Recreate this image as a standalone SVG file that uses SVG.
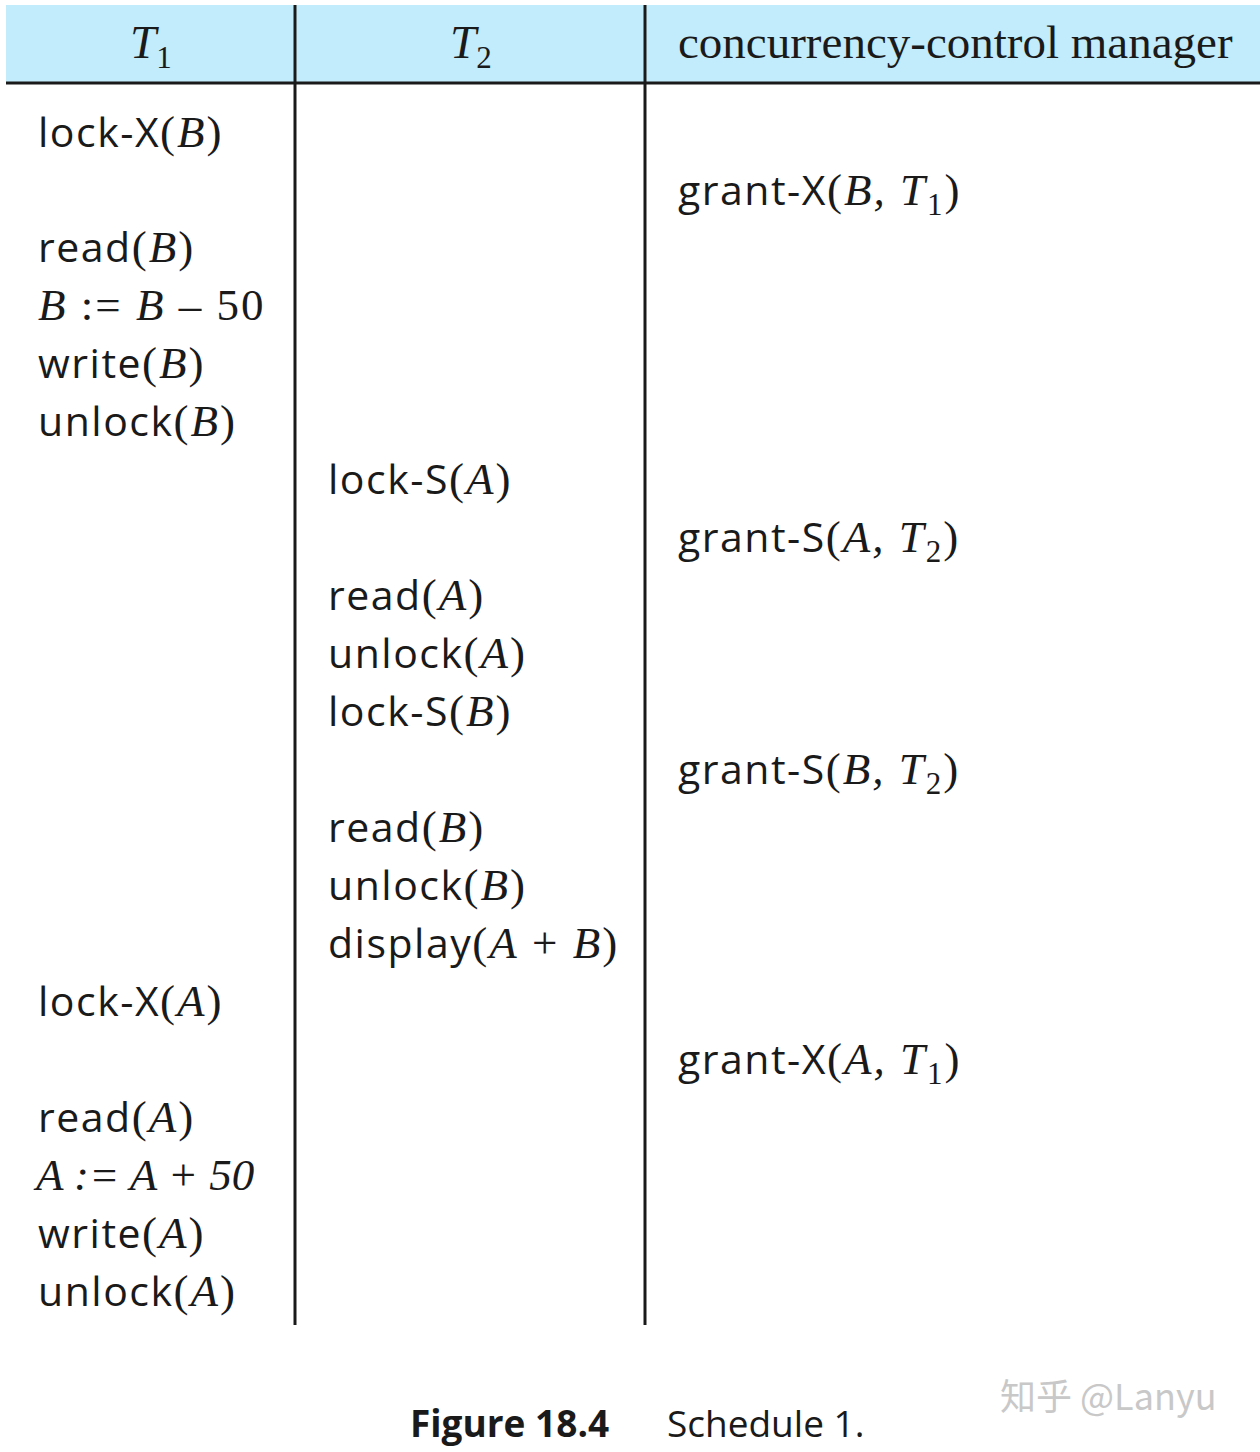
<svg xmlns="http://www.w3.org/2000/svg" width="1260" height="1452" viewBox="0 0 1260 1452">
<style>
.s{font-family:"Open Sans","DejaVu Sans",sans-serif;font-size:41px;letter-spacing:1.5px;fill:#1a1a1a}
.v{font-family:"Liberation Serif",serif;font-style:italic;font-size:45px;letter-spacing:2px}
.r{font-family:"Liberation Serif",serif;font-size:45px;letter-spacing:2px}
.h{font-family:"Liberation Serif",serif;font-size:47px;fill:#1a1a1a}
.sub{font-size:31px;font-style:normal}
.ln{stroke:#1a1a1a;stroke-width:3}
.cap{font-family:"Open Sans","DejaVu Sans",sans-serif;font-size:37px;fill:#1a1a1a}
</style>
<rect width="1260" height="1452" fill="#fff"/>
<g id="header">
<rect x="6" y="5" width="1254" height="78" fill="#c2ecfb"/>
<line class="ln" x1="6" y1="83" x2="1260" y2="83"/>
<text class="h" x="130" y="58"><tspan font-style="italic">T</tspan><tspan class="sub" dy="10">1</tspan></text>
<text class="h" x="450" y="58"><tspan font-style="italic">T</tspan><tspan class="sub" dy="10">2</tspan></text>
<text class="h" x="678" y="58">concurrency-control manager</text>
</g>
<g id="grid">
<line class="ln" x1="295" y1="5" x2="295" y2="1325"/>
<line class="ln" x1="645" y1="5" x2="645" y2="1325"/>
</g>
<g id="T1">
<text class="s" x="38" y="147">lock-X<tspan class="r">(</tspan><tspan class="v">B</tspan><tspan class="r">)</tspan></text>
<text class="s" x="38" y="262">read<tspan class="r">(</tspan><tspan class="v">B</tspan><tspan class="r">)</tspan></text>
<text class="r" x="38" y="320" fill="#1a1a1a"><tspan class="v">B</tspan> := <tspan class="v">B</tspan> – 50</text>
<text class="s" x="38" y="378">write<tspan class="r">(</tspan><tspan class="v">B</tspan><tspan class="r">)</tspan></text>
<text class="s" x="38" y="436">unlock<tspan class="r">(</tspan><tspan class="v">B</tspan><tspan class="r">)</tspan></text>
<text class="s" x="38" y="1016">lock-X<tspan class="r">(</tspan><tspan class="v">A</tspan><tspan class="r">)</tspan></text>
<text class="s" x="38" y="1132">read<tspan class="r">(</tspan><tspan class="v">A</tspan><tspan class="r">)</tspan></text>
<text class="v" x="36" y="1190" fill="#1a1a1a" style="letter-spacing:0">A := A + 50</text>
<text class="s" x="38" y="1248">write<tspan class="r">(</tspan><tspan class="v">A</tspan><tspan class="r">)</tspan></text>
<text class="s" x="38" y="1306">unlock<tspan class="r">(</tspan><tspan class="v">A</tspan><tspan class="r">)</tspan></text>
</g>
<g id="T2">
<text class="s" x="328" y="494">lock-S<tspan class="r">(</tspan><tspan class="v">A</tspan><tspan class="r">)</tspan></text>
<text class="s" x="328" y="610">read<tspan class="r">(</tspan><tspan class="v">A</tspan><tspan class="r">)</tspan></text>
<text class="s" x="328" y="668">unlock<tspan class="r">(</tspan><tspan class="v">A</tspan><tspan class="r">)</tspan></text>
<text class="s" x="328" y="726">lock-S<tspan class="r">(</tspan><tspan class="v">B</tspan><tspan class="r">)</tspan></text>
<text class="s" x="328" y="842">read<tspan class="r">(</tspan><tspan class="v">B</tspan><tspan class="r">)</tspan></text>
<text class="s" x="328" y="900">unlock<tspan class="r">(</tspan><tspan class="v">B</tspan><tspan class="r">)</tspan></text>
<text class="s" x="328" y="958">display<tspan class="r">(</tspan><tspan class="v">A</tspan><tspan class="r"> + </tspan><tspan class="v">B</tspan><tspan class="r">)</tspan></text>
</g>
<g id="manager">
<text class="s" x="678" y="205">grant-X<tspan class="r">(</tspan><tspan class="v">B, T</tspan><tspan class="r sub" dy="10">1</tspan><tspan class="r" dy="-10">)</tspan></text>
<text class="s" x="678" y="552">grant-S<tspan class="r">(</tspan><tspan class="v">A, T</tspan><tspan class="r sub" dy="10">2</tspan><tspan class="r" dy="-10">)</tspan></text>
<text class="s" x="678" y="784">grant-S<tspan class="r">(</tspan><tspan class="v">B, T</tspan><tspan class="r sub" dy="10">2</tspan><tspan class="r" dy="-10">)</tspan></text>
<text class="s" x="678" y="1074">grant-X<tspan class="r">(</tspan><tspan class="v">A, T</tspan><tspan class="r sub" dy="10">1</tspan><tspan class="r" dy="-10">)</tspan></text>
</g>
<g id="caption">
<text class="cap" x="410" y="1437" font-weight="bold">Figure 18.4</text>
<text class="cap" x="667" y="1437">Schedule 1.</text>
<text x="1000" y="1410" font-family="'Noto Sans CJK SC',sans-serif" font-size="36" fill="#c8c8c8">知乎 @Lanyu</text>
</g>
</svg>
